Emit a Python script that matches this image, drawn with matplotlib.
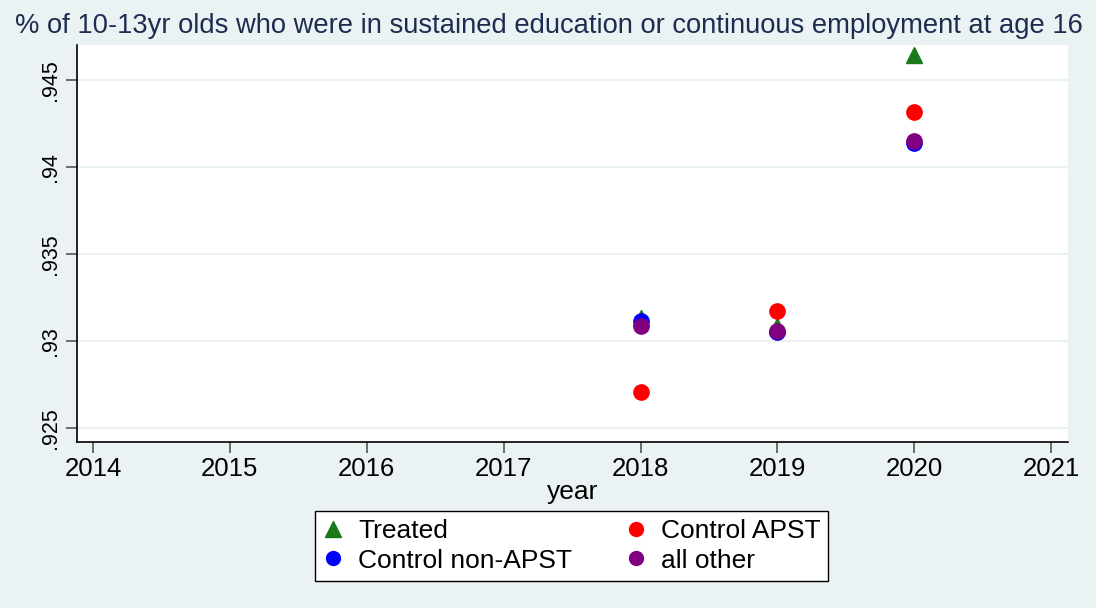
import matplotlib
matplotlib.use("Agg")
import matplotlib.pyplot as plt
from matplotlib.lines import Line2D

plt.rcParams['font.family'] = ['Liberation Sans', 'DejaVu Sans']

# data
years = [2018, 2019, 2020]
treated = [0.93132, 0.93086, 0.94644]
control_apst = [0.92707, 0.93172, 0.94316]
control_non_apst = [0.93115, 0.93052, 0.94138]
all_other = [0.93086, 0.93057, 0.94149]

x_ticks = [2014, 2015, 2016, 2017, 2018, 2019, 2020, 2021]
y_ticks = [0.925, 0.93, 0.935, 0.94, 0.945]
y_labels = ['.925', '.93', '.935', '.94', '.945']

bg = '#EAF2F3'
green = '#1A7A1A'
red = '#FF0000'
blue = '#0000FF'
purple = '#800080'

fig = plt.figure(figsize=(10.96, 6.08), dpi=100, facecolor=bg)
ax = fig.add_axes([0.0703, 0.273, 0.9042, 0.653])
ax.set_facecolor('white')

ax.plot(years, treated, linestyle='none', marker='^', color=green,
        markersize=12, zorder=3)
ax.plot(years, control_apst, linestyle='none', marker='o', color=red,
        markersize=11, zorder=3)
ax.plot(years, control_non_apst, linestyle='none', marker='o', color=blue,
        markersize=11, zorder=3)
ax.plot(years, all_other, linestyle='none', marker='o', color=purple,
        markersize=11, zorder=3)

ax.set_xlim(2013.883, 2021.124)
ax.set_ylim(0.9242, 0.947)
ax.set_xticks(x_ticks)
ax.set_xticklabels([str(y) for y in x_ticks], fontsize=18.5)
ax.set_yticks(y_ticks)
ax.set_yticklabels(y_labels, fontsize=15.5, rotation=90, va='center')
ax.grid(axis='y', color=bg, linewidth=1.5)
ax.set_axisbelow(True)

for s in ['top', 'right']:
    ax.spines[s].set_visible(False)
for s in ['left', 'bottom']:
    ax.spines[s].set_color('black')
    ax.spines[s].set_linewidth(1.2)
ax.tick_params(axis='both', direction='out', length=8, color='#555555', width=1.2)
ax.tick_params(axis='x', pad=3)

ax.set_xlabel('year', fontsize=19, labelpad=-1)

fig.text(0.0137, 0.957, '% of 10-13yr olds who were in sustained education or continuous employment at age 16',
         fontsize=19.7, color='#1E2D4F', ha='left', va='center')

# matplotlib fills legend columns first, so order to read row-wise like the original
handles = [
    Line2D([], [], linestyle='none', marker='^', color=green, markersize=11),
    Line2D([], [], linestyle='none', marker='o', color=blue, markersize=10),
    Line2D([], [], linestyle='none', marker='o', color=red, markersize=10),
    Line2D([], [], linestyle='none', marker='o', color=purple, markersize=10),
]
labels = ['Treated', 'Control non-APST', 'Control APST', 'all other']
leg = fig.legend(handles, labels, ncol=2, loc='center', bbox_to_anchor=(0.5215, 0.102),
                 fontsize=19, frameon=True, fancybox=False, edgecolor='black',
                 framealpha=1, facecolor='white',
                 handletextpad=0.55, columnspacing=2.0, handlelength=0.8, borderpad=0.3,
                 labelspacing=0.2, borderaxespad=0)
leg.get_frame().set_linewidth(1.0)

fig.savefig('out.png', dpi=100, facecolor=bg)
